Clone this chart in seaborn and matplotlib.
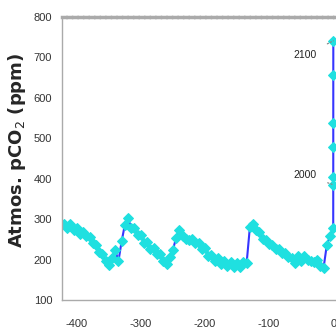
import matplotlib
matplotlib.use("Agg")
import pandas as pd
import seaborn as sns
import matplotlib.pyplot as plt
from matplotlib.ticker import MultipleLocator

# ice-core record, thousands of years before present
age_ky = [-420, -415, -410, -405, -400, -395, -390, -385, -380, -375,
          -370, -365, -360, -355, -350, -345, -340, -335, -330, -325,
          -320, -315, -310, -305, -300, -295, -290, -285, -280, -275,
          -270, -265, -260, -255, -250, -245, -240, -235, -230, -225,
          -220, -215, -210, -205, -200, -195, -190, -185, -180, -175,
          -170, -165, -160, -155, -150, -145, -140, -135, -130, -125,
          -120, -115, -110, -105, -100, -95, -90, -85, -80, -75,
          -70, -65, -60, -55, -50, -45, -40, -35, -30, -25,
          -20, -15, -10, -5, 0]
co2_ppm = [288, 279, 287, 274, 279, 264, 267, 258, 255, 240,
           235, 218, 213, 196, 186, 204, 224, 196, 245, 286,
           302, 278, 277, 261, 261, 242, 243, 226, 229, 214,
           215, 196, 188, 206, 224, 254, 274, 258, 252, 248,
           252, 240, 242, 226, 228, 210, 212, 196, 204, 190,
           196, 184, 194, 182, 192, 182, 194, 192, 280, 288,
           272, 268, 250, 248, 238, 236, 226, 226, 216, 216,
           206, 204, 192, 210, 196, 210, 198, 196, 194, 198,
           184, 180, 236, 258, 278]

# modern rise and projection (2000 -> 2100)
future_ky = [0.05, 0.06, 0.08, 0.09, 0.12, 0.15]
future_ppm = [385, 405, 478, 538, 657, 741]

df = pd.DataFrame({"age": age_ky + future_ky, "co2": co2_ppm + future_ppm})

sns.set_style("white")
plt.rcParams["font.family"] = ["Liberation Sans", "DejaVu Sans"]
plt.rcParams["axes.unicode_minus"] = False

fig = plt.figure(figsize=(3.36, 3.31), dpi=100)
ax = fig.add_axes([62 / 336, 31 / 331, 272.5 / 336, 283 / 331])

sns.lineplot(data=df, x="age", y="co2", ax=ax, color="#3535ff", linewidth=1.5,
             marker="D", markersize=5, markerfacecolor="#1fe0e0",
             markeredgecolor="#1fe0e0", sort=False)

ax.set_xlim(-423, 2)
ax.set_ylim(100, 800)
ax.set_xticks([-400, -300, -200, -100, 0])
ax.set_yticks([100, 200, 300, 400, 500, 600, 700, 800])
ax.xaxis.set_minor_locator(MultipleLocator(10))
ax.yaxis.set_minor_locator(MultipleLocator(10))

ax.tick_params(axis="both", which="major", direction="out", length=4, width=0.8,
               color="#888888", labelsize=8, labelcolor="#333333", pad=3)
ax.tick_params(axis="both", which="minor", direction="out", length=2, width=0.6,
               color="#999999")
ax.tick_params(axis="x", which="major", pad=10)

for s in ["left", "bottom", "top"]:
    ax.spines[s].set_color("#aaaaaa")
    ax.spines[s].set_linewidth(1.0)
ax.spines["top"].set_linewidth(2.5)
ax.spines["top"].set_linestyle((0, (1, 0.6)))
ax.spines["right"].set_visible(False)

ax.set_xlabel("")
ax.set_ylabel("Atmos. pCO$_2$ (ppm)", fontsize=13, fontweight="bold",
              family=["DejaVu Sans"])
ax.yaxis.set_label_coords(-0.125, 0.53)

for yr, xy, xyt in [("2100", (0.15, 741), (-44, 706)),
                    ("2000", (0.05, 385), (-44, 410))]:
    ax.annotate(yr, xy=xy, xytext=xyt, fontsize=7.5, ha="center", va="center",
                color="#222222",
                arrowprops=dict(arrowstyle="-", linestyle=":", color="#888888",
                                linewidth=0.9, shrinkA=6, shrinkB=0))

fig.savefig("out.png", dpi=100)
